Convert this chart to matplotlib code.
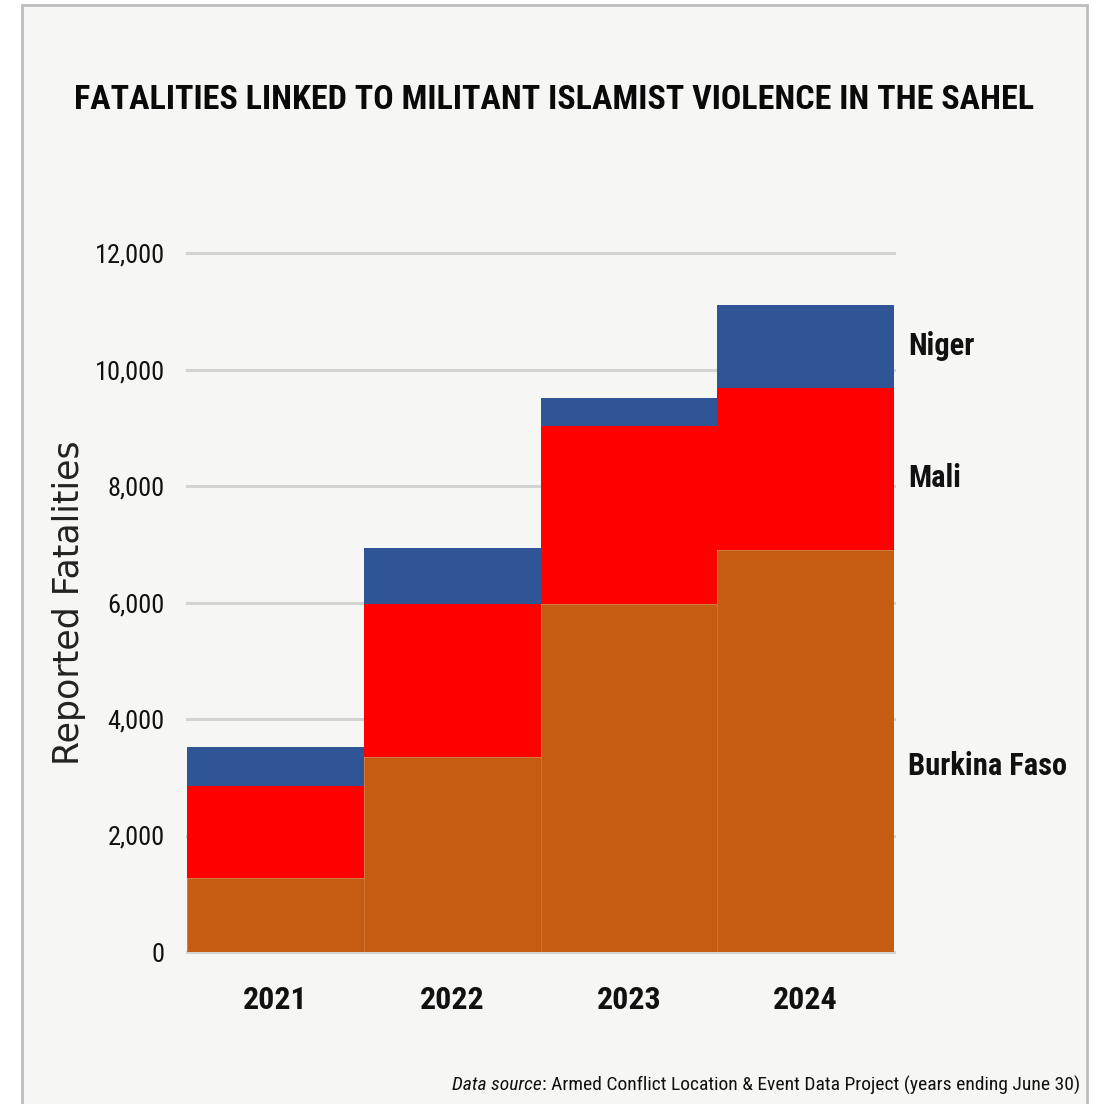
import matplotlib
matplotlib.use('Agg')
import matplotlib.pyplot as plt
from matplotlib import font_manager
from matplotlib.patches import Rectangle
import numpy as np

years = ['2021', '2022', '2023', '2024']
burkina_faso = [1270, 3350, 5970, 6900]
mali = [1580, 2620, 3060, 2780]
niger = [670, 960, 480, 1430]
yticks = [0, 2000, 4000, 6000, 8000, 10000, 12000]

COL_BF = '#c45c12'
COL_MALI = '#ff0000'
COL_NIGER = '#2f5597'
BG = '#f6f6f4'


def pick_font(names):
    for name in names:
        try:
            font_manager.findfont(font_manager.FontProperties(family=name),
                                  fallback_to_default=False)
            return name
        except Exception:
            continue
    return 'DejaVu Sans'


NARROW = pick_font(['Liberation Sans Narrow', 'Roboto Condensed', 'Liberation Sans'])

W, H = 1099, 1104
fig = plt.figure(figsize=(W / 100, H / 100), dpi=100)
fig.patch.set_facecolor('white')

# panel frame
fig.patches.append(Rectangle((22 / W, -0.02), (1087 - 22) / W, (H - 5) / H + 0.02,
                             transform=fig.transFigure, facecolor=BG,
                             edgecolor='#bdbdbd', linewidth=2, zorder=-5))

ax = fig.add_axes([187 / W, (H - 952) / H, (894 - 187) / W, (952 - 253) / H])
ax.set_facecolor('none')

x = np.arange(len(years))
bottom_mali = np.array(burkina_faso)
bottom_niger = bottom_mali + np.array(mali)
tot = bottom_niger + np.array(niger)
ax.bar(x, burkina_faso, width=1.0, color=COL_BF, edgecolor='#d0743a', linewidth=0.6, zorder=3)
ax.bar(x, mali, width=1.0, bottom=bottom_mali, color=COL_MALI, linewidth=0, zorder=3)
ax.bar(x, niger, width=1.0, bottom=bottom_niger, color=COL_NIGER, linewidth=0, zorder=3)

ax.set_xlim(-0.5, 3.5)
ax.set_ylim(0, 12000)
for t in yticks:
    ax.axhline(t, color='#d3d3d3', linewidth=2.2, zorder=1, clip_on=False)

for s in ax.spines.values():
    s.set_visible(False)
ax.tick_params(length=0)
ax.set_yticks(yticks)
ax.set_yticklabels([f'{t:,}' for t in yticks], family=NARROW, fontsize=19, color='#111111')
ax.tick_params(axis='y', pad=16)
ax.set_xticks(x)
ax.set_xticklabels(years, family=NARROW, fontsize=23, fontweight='bold', color='#111111')
ax.tick_params(axis='x', pad=24)

ax.set_ylabel('Reported Fatalities', family='DejaVu Sans', fontsize=25, color='#222222', labelpad=6)

# series labels to the right of the last bar
lab_kw = dict(family=NARROW, fontsize=22, fontweight='bold', va='center', ha='left',
              color='#111111', clip_on=False)
ax.text(3.58, (bottom_niger[-1] + tot[-1]) / 2, 'Niger', **lab_kw)
ax.text(3.58, (bottom_mali[-1] + bottom_niger[-1]) / 2 - 150, 'Mali', **lab_kw)
ax.text(3.58, burkina_faso[-1] / 2 - 250, 'Burkina Faso', **lab_kw)

title = fig.text(554 / W, 1 - 100 / H, 'FATALITIES LINKED TO MILITANT ISLAMIST VIOLENCE IN THE SAHEL',
                 family=NARROW, fontsize=40, fontweight='bold', ha='center', va='center', color='#0a0a0a')
fig.canvas.draw()
tw = title.get_window_extent().width
title.set_fontsize(40 * 958 / tw)

# footer
foot = fig.text(1080 / W, 1 - 1085 / H,
                ': Armed Conflict Location & Event Data Project (years ending June 30)',
                family=NARROW, fontsize=14, ha='right', va='center', color='#111111')
fig.canvas.draw()
bb = foot.get_window_extent()
fig.text(bb.x0 / W, 1 - 1085 / H, 'Data source', family=NARROW, fontsize=14,
         style='italic', ha='right', va='center', color='#111111')

fig.savefig('out.png', dpi=100, facecolor='white')
